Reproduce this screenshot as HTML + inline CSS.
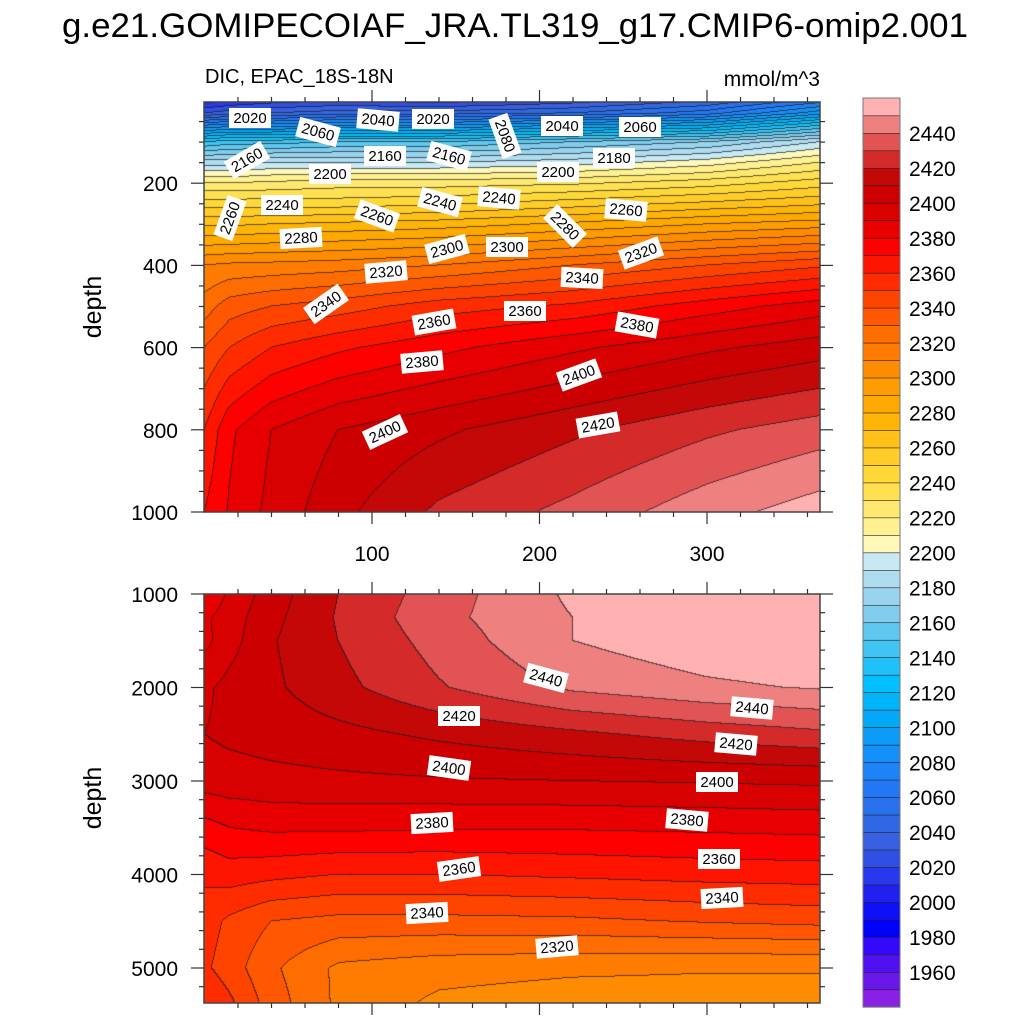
<!DOCTYPE html>
<html><head><meta charset="utf-8">
<style>
html,body{margin:0;padding:0;background:#fff;}
#wrap{position:relative;width:1024px;height:1024px;overflow:hidden;font-family:"Liberation Sans",sans-serif;}
canvas{position:absolute;}
svg{position:absolute;left:0;top:0;}
</style></head>
<body>
<div id="wrap">
<canvas id="cTop" style="left:204px;top:102px" width="616" height="410"></canvas>
<canvas id="cBot" style="left:204px;top:594px" width="616" height="409"></canvas>
<svg id="ov" width="1024" height="1024">
<text x="515" y="37" font-size="34" text-anchor="middle" textLength="906" lengthAdjust="spacingAndGlyphs">g.e21.GOMIPECOIAF_JRA.TL319_g17.CMIP6-omip2.001</text>
<text x="205" y="83" font-size="20">DIC, EPAC_18S-18N</text>
<text x="820" y="86" font-size="21" text-anchor="end">mmol/m^3</text>
<text transform="translate(101,307) rotate(-90)" font-size="25" text-anchor="middle">depth</text>
<text transform="translate(101,798) rotate(-90)" font-size="25" text-anchor="middle">depth</text>
<g id="axes"></g>
<g id="labels"></g>
<g id="cbar"></g>
</svg>
</div>
<script>
// ---- data ----
const xCols = [0, 15, 40, 80, 140, 220, 300, 367];
const topDepths = [0, 30, 60, 100, 150, 200, 250, 300, 400, 500, 600, 800, 1000];
const topValues = [
 [2005,2010,2015,2020,2015,2025,2040,2065],
 [2030,2035,2040,2045,2045,2050,2065,2095],
 [2080,2085,2085,2090,2090,2100,2110,2140],
 [2140,2145,2145,2150,2150,2160,2170,2190],
 [2185,2185,2190,2190,2190,2195,2205,2220],
 [2220,2220,2222,2225,2225,2228,2235,2245],
 [2245,2245,2245,2245,2248,2255,2262,2268],
 [2268,2268,2270,2272,2275,2282,2290,2295],
 [2310,2312,2313,2315,2320,2330,2340,2348],
 [2325,2335,2340,2345,2355,2362,2375,2385],
 [2340,2350,2360,2368,2377,2388,2398,2405],
 [2360,2378,2390,2400,2408,2418,2428,2435],
 [2370,2381,2393,2407,2422,2433,2446,2455]
];
const botDepths = [1000, 1250, 1500, 2000, 2500, 3000, 3500, 4000, 4500, 5000, 5360];
const botValues = [
 [2380,2392,2405,2420,2435,2452,2458,2460],
 [2388,2395,2407,2421,2437,2450,2456,2458],
 [2387,2396,2409,2420,2434,2450,2457,2460],
 [2398,2403,2408,2417,2429,2442,2448,2451],
 [2400,2402,2404,2407,2412,2418,2424,2428],
 [2395,2396,2397,2398,2399,2400,2401,2402],
 [2376,2380,2382,2382,2381,2381,2382,2383],
 [2362,2365,2363,2360,2360,2362,2364,2365],
 [2355,2348,2340,2337,2337,2338,2341,2343],
 [2352,2345,2332,2318,2314,2312,2311,2311],
 [2360,2352,2335,2318,2308,2305,2305,2305]
];
const levelMin = 1940, levelStep = 10;
const levelColors = ["#8a20e6","#6a18ea","#5010f0","#3408f8","#0000ff","#1010f8","#2020f0","#2838ec","#3050e4","#3860e0","#3068e4","#2870ec","#2278f4","#1c84f8","#1490f8","#0c9cf8","#04a8f8","#00b4fa","#00c0ff","#20c0f8","#40c4f4","#60c8f0","#80ccec","#98d4ee","#b0dcf0","#c8e8f4",
"#fff8b8","#fff090","#ffe870","#ffe050","#ffd838","#ffcc28","#ffc018","#ffb408","#ffa800","#ff9c00","#ff8c00","#ff7c00","#ff6c00","#ff5800","#ff4400","#ff2c00","#ff1400","#ff0000","#e80000","#d80000","#cc0000","#c40808","#d42a2a","#e25454","#ee8080","#ffb0b0"];
const cbarTicks = [1960,1980,2000,2020,2040,2060,2080,2100,2120,2140,2160,2180,2200,2220,2240,2260,2280,2300,2320,2340,2360,2380,2400,2420,2440];
const topLabels = [["2020",250,118,0],["2060",318,132,15],["2040",378,120,5],["2020",433,119,0],["2080",505,136,70],["2040",562,126,0],["2060",640,127,0],
["2160",247,160,-30],["2160",385,156,0],["2160",449,156,15],["2180",614,158,0],["2200",330,174,0],["2200",558,172,0],
["2260",230,218,-70],["2240",282,205,0],["2260",377,216,20],["2240",440,202,15],["2240",499,198,5],["2280",565,226,45],["2260",626,210,5],
["2280",301,238,-3],["2300",447,249,-15],["2300",507,247,0],["2320",641,253,-20],["2320",386,272,-5],["2340",582,278,3],
["2340",326,304,-35],["2360",434,322,-10],["2360",525,311,0],["2380",637,325,10],["2380",422,362,-5],["2400",579,375,-20],["2400",385,432,-25],["2420",598,425,-10]];
const botLabels = [["2440",546,678,15],["2440",752,708,5],["2420",459,716,0],["2420",736,744,5],["2400",449,768,8],["2400",717,782,0],
["2380",432,823,-3],["2380",687,820,5],["2360",459,869,-8],["2360",719,859,0],["2340",427,913,-3],["2340",722,898,-3],["2320",557,947,-5]];
const xTickLabels = [100,200,300];
const topYTicks = [200,400,600,800,1000];
const botYTicks = [1000,2000,3000,4000,5000];

// ---- scales ----
const X0 = 204, X1 = 820;
function xPix(x){ return 204.5 + x*1.675; }
function xVal(p){ return (p-204.5)/1.675; }
function yTop(d){ return 101 + d*0.411; }
function yBot(d){ return 594 + (d-1000)*0.0935; }

function hex(c){ return [parseInt(c.substr(1,2),16),parseInt(c.substr(3,2),16),parseInt(c.substr(5,2),16)]; }
const rgb = levelColors.map(hex);

function interp(arr, v){
  if(v<=arr[0]) return [0,0];
  for(let i=0;i<arr.length-1;i++){ if(v<=arr[i+1]) return [i,(v-arr[i])/(arr[i+1]-arr[i])]; }
  return [arr.length-2,1];
}
function field(depths, vals, x, d){
  const [i,fx]=interp(xCols,x); const [j,fy]=interp(depths,d);
  const a=vals[j][i]*(1-fx)+vals[j][i+1]*fx;
  const b=vals[j+1][i]*(1-fx)+vals[j+1][i+1]*fx;
  return a*(1-fy)+b*fy;
}
function lev(v){ let k=Math.floor((v-levelMin)/levelStep); return Math.max(0,Math.min(levelColors.length-1,k)); }

function drawPanel(id, depths, vals, top, invY){
  const cv=document.getElementById(id), ctx=cv.getContext('2d');
  const W=cv.width,H=cv.height, img=ctx.createImageData(W,H);
  const L=new Int16Array(W*H);
  for(let py=0;py<H;py++){ const d=invY(top+py+0.5);
    for(let px=0;px<W;px++){ L[py*W+px]=lev(field(depths,vals,xVal(X0+px+0.5),d)); } }
  for(let py=0;py<H;py++) for(let px=0;px<W;px++){
    const k=L[py*W+px]; let c=rgb[k];
    let edge=(px<W-1&&L[py*W+px+1]!==k)||(py<H-1&&L[(py+1)*W+px]!==k);
    const o=(py*W+px)*4;
    if(edge){ img.data[o]=c[0]*0.3+20; img.data[o+1]=c[1]*0.3+20; img.data[o+2]=c[2]*0.3+20; }
    else { img.data[o]=c[0]; img.data[o+1]=c[1]; img.data[o+2]=c[2]; }
    img.data[o+3]=255;
  }
  ctx.putImageData(img,0,0);
}
drawPanel('cTop', topDepths, topValues, 102, p=>(p-101)/0.411);
drawPanel('cBot', botDepths, botValues, 594, p=>(p-594)/0.0935+1000);

// ---- axes ----
const NS='http://www.w3.org/2000/svg';
function mk(tag, attrs, parent){ const e=document.createElementNS(NS,tag); for(const k in attrs) e.setAttribute(k,attrs[k]); parent.appendChild(e); return e; }
const axes=document.getElementById('axes');
function frame(y0,y1,name){
  const r=mk('rect',{x:X0,y:y0,width:X1-X0,height:y1-y0,fill:'none',stroke:'#444','stroke-width':1.5},axes);
  
  
}
frame(102,512,'upper-plot-frame');
frame(594,1003,'lower-plot-frame');
function xticks(y,dir){
  for(let x=20;x<=360;x+=20){ const p=xPix(x); const len=(x%100===0)?12:5;
    const t=mk('line',{x1:p,x2:p,y1:y,y2:y+dir*len,stroke:'#333','stroke-width':1.2},axes);
    
     }
}
xticks(102,-1); xticks(512,1); xticks(594,-1); xticks(1003,1);
xTickLabels.forEach(v=>{ const t=mk('text',{x:xPix(v),y:561,'font-size':21,'text-anchor':'middle'},axes); t.textContent=v;
  
   });
for(let d=50;d<=1000;d+=50){ const p=yTop(d); const len=(d%200===0)?13:5;
  [[X0,-1],[X1,1]].forEach(([x,s])=>{ const t=mk('line',{x1:x,x2:x+s*len,y1:p,y2:p,stroke:'#333','stroke-width':1.2},axes);
    
     }); }
for(let d=1200;d<=5200;d+=200){ const p=yBot(d); const len=(d%1000===0)?13:5;
  [[X0,-1],[X1,1]].forEach(([x,s])=>{ const t=mk('line',{x1:x,x2:x+s*len,y1:p,y2:p,stroke:'#333','stroke-width':1.2},axes);
    
     }); }
[[X0,-1],[X1,1]].forEach(([x,s])=>{ const t=mk('line',{x1:x,x2:x+s*13,y1:594,y2:594,stroke:'#333','stroke-width':1.2},axes);
  
   });
topYTicks.forEach(v=>{ const t=mk('text',{x:178,y:yTop(v)+8,'font-size':21,'text-anchor':'end'},axes); t.textContent=v;
  
   });
botYTicks.forEach(v=>{ const t=mk('text',{x:178,y:yBot(v)+8,'font-size':21,'text-anchor':'end'},axes); t.textContent=v;
  
   });

// ---- contour labels ----
const lg=document.getElementById('labels');
topLabels.concat(botLabels).forEach(([s,x,y,r])=>{
  const g=mk('g',{transform:`translate(${x},${y}) rotate(${r})`},lg);
  
  
  mk('rect',{x:-21,y:-10,width:42,height:20,fill:'#fff'},g);
  const t=mk('text',{x:0,y:5,'font-size':15,'text-anchor':'middle'},g); t.textContent=s;
});

// ---- colorbar ----
const cb=document.getElementById('cbar');
const CB_X=863, CB_W=37, CB_BOT=1007, CB_H=17.48;
levelColors.forEach((c,i)=>{
  const r=mk('rect',{x:CB_X,y:CB_BOT-(i+1)*CB_H,width:CB_W,height:CB_H+0.3,fill:c,stroke:'#222','stroke-width':0.6},cb);
  
  
});
const fr=mk('rect',{x:CB_X,y:CB_BOT-levelColors.length*CB_H,width:CB_W,height:levelColors.length*CB_H,fill:'none',stroke:'#777','stroke-width':1},cb);


cbarTicks.forEach(v=>{ const y=CB_BOT-(v-levelMin)/levelStep*CB_H;
  const t=mk('text',{x:909,y:y+8,'font-size':21},cb); t.textContent=v;
  
   });
</script>
</body></html>
